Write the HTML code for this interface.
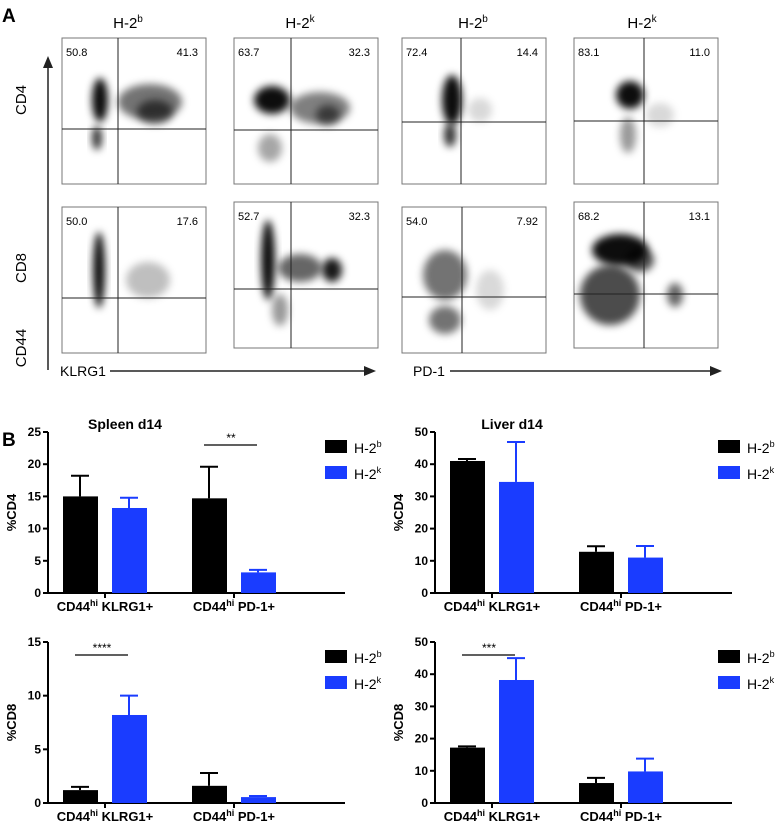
<!DOCTYPE html>
<html><head><meta charset="utf-8"><style>
body{margin:0;background:#fff;}
svg{display:block;font-family:"Liberation Sans",Arial,sans-serif;}
</style></head><body>
<svg id="fig" width="777" height="824" viewBox="0 0 777 824">
<defs>
<filter id="bl" x="-50%" y="-50%" width="200%" height="200%"><feGaussianBlur stdDeviation="4"/></filter>
</defs>
<text x="2" y="22" font-size="19" font-weight="bold">A</text>
<text x="2" y="446" font-size="19" font-weight="bold">B</text>
<g id="flow"></g>
<g id="charts"></g>
</svg>
<script>
const NS='http://www.w3.org/2000/svg';
function mk(p,t,a,txt){const e=document.createElementNS(NS,t);for(const k in a)e.setAttribute(k,a[k]);if(txt!==undefined)e.textContent=txt;p.appendChild(e);return e;}
const flow=document.getElementById('flow');
const headers=[[128,'b'],[300,'k'],[473,'b'],[642,'k']];
headers.forEach(h=>{const t=mk(flow,'text',{x:h[0],y:28,'font-size':15,'text-anchor':'middle'});


t.textContent='H-2';mk(t,'tspan',{dy:-6,'font-size':10},h[1]);});
const boxes=[
[62,38,144,146,118,129,'50.8','41.3',[[100,100,8,22,0.95],[97,138,5,12,.8],[150,102,32,18,.55],[155,112,18,12,.6]]],
[234,38,144,146,291,130,'63.7','32.3',[[272,100,18,14,.95],[270,148,12,14,.35],[320,108,30,16,.5],[328,115,12,10,.55]]],
[402,38,144,146,461,122,'72.4','14.4',[[452,100,10,25,.95],[450,135,6,12,.8],[480,110,12,12,.15]]],
[574,38,144,146,644,121,'83.1','11.0',[[630,95,14,14,.95],[628,135,8,18,.4],[660,115,14,12,.15]]],
[62,207,144,146,118,298,'50.0','17.6',[[99,270,6,38,.95],[148,280,22,18,.25]]],
[234,202,144,146,291,289,'52.7','32.3',[[268,260,7,40,.95],[300,268,22,14,.6],[332,270,10,12,.9],[280,310,8,16,.4]]],
[402,207,144,146,462,297,'54.0','7.92',[[445,275,22,25,.55],[445,320,16,14,.55],[490,290,14,20,.15]]],
[574,202,144,146,644,294,'68.2','13.1',[[620,250,28,16,.95],[610,295,30,30,.7],[675,295,8,12,.6],[640,260,14,12,.7]]]];
boxes.forEach(b=>{
 const g=mk(flow,'g',{});
 
 
 mk(g,'rect',{x:b[0],y:b[1],width:b[2],height:b[3],fill:'#fff',stroke:'#777','stroke-width':1});
 b[8].forEach(e=>mk(g,'ellipse',{cx:e[0],cy:e[1],rx:e[2],ry:e[3],fill:'#000','fill-opacity':e[4],filter:'url(#bl)'}));
 mk(g,'line',{x1:b[4],x2:b[4],y1:b[1],y2:b[1]+b[3],stroke:'#222'});
 mk(g,'line',{x1:b[0],x2:b[0]+b[2],y1:b[5],y2:b[5],stroke:'#222'});
 mk(g,'text',{x:b[0]+4,y:b[1]+18,'font-size':11},b[6]);
 mk(g,'text',{x:b[0]+b[2]-8,y:b[1]+18,'font-size':11,'text-anchor':'end'},b[7]);
});
mk(flow,'line',{x1:48,y1:370,x2:48,y2:66,stroke:'#222','stroke-width':1.5});
mk(flow,'polygon',{points:'43,68 53,68 48,56',fill:'#222'});
[[100,'CD4'],[268,'CD8'],[348,'CD44']].forEach(l=>{const t=mk(flow,'text',{x:26,y:l[0],'font-size':15,'text-anchor':'middle',transform:`rotate(-90 26 ${l[0]})`},l[1]);
});
mk(flow,'text',{x:60,y:376,'font-size':14},'KLRG1');
mk(flow,'line',{x1:110,y1:371,x2:366,y2:371,stroke:'#222','stroke-width':1.5});
mk(flow,'polygon',{points:'364,366 364,376 376,371',fill:'#222'});
mk(flow,'text',{x:413,y:376,'font-size':14},'PD-1');
mk(flow,'line',{x1:450,y1:371,x2:712,y2:371,stroke:'#222','stroke-width':1.5});
mk(flow,'polygon',{points:'710,366 710,376 722,371',fill:'#222'});

// ---- bar chart data ----
const categories=['KLRG1+','PD-1+'];
const spleenCD4_b=[15.0,14.7], spleenCD4_bErr=[3.2,4.9];
const spleenCD4_k=[13.2,3.2], spleenCD4_kErr=[1.6,0.4];
const liverCD4_b=[41.0,12.8], liverCD4_bErr=[0.6,1.7];
const liverCD4_k=[34.5,11.0], liverCD4_kErr=[12.4,3.6];
const spleenCD8_b=[1.2,1.6], spleenCD8_bErr=[0.3,1.2];
const spleenCD8_k=[8.2,0.55], spleenCD8_kErr=[1.8,0.1];
const liverCD8_b=[17.2,6.2], liverCD8_bErr=[0.4,1.6];
const liverCD8_k=[38.2,9.8], liverCD8_kErr=[6.8,4.0];
const ticksCD4spleen=[0,5,10,15,20,25], ticksLiver=[0,10,20,30,40,50], ticksCD8spleen=[0,5,10,15];

const charts=document.getElementById('charts');
function chart(ox,top,bot,max,ticks,ylab,b,be,k,ke,sig,title,legX){
 const g=mk(charts,'g',{});
 
 
 const y=v=>bot-(v/max)*(bot-top);
 const slotX=[ox+15,ox+144];
 if(title)mk(g,'text',{x:ox+77,y:top-3,'font-size':14,'font-weight':'bold','text-anchor':'middle'},title);
 mk(g,'line',{x1:ox,x2:ox,y1:top,y2:bot+1,stroke:'#000','stroke-width':2});
 mk(g,'line',{x1:ox,x2:ox+297,y1:bot,y2:bot,stroke:'#000','stroke-width':2});
 ticks.forEach(t=>{mk(g,'line',{x1:ox-5,x2:ox,y1:y(t),y2:y(t),stroke:'#000','stroke-width':2});
  const tl=mk(g,'text',{x:ox-7,y:y(t)+4,'font-size':12,'font-weight':'bold','text-anchor':'end'},String(t));
  });
 const yl=mk(g,'text',{x:ox-32,y:(top+bot)/2,'font-size':13,'font-weight':'bold','text-anchor':'middle',transform:`rotate(-90 ${ox-32} ${(top+bot)/2})`},ylab);
 
 categories.forEach((c,i)=>{
  const sx=slotX[i];
  [[b,be,'#000',0],[k,ke,'#1a3cff',49]].forEach(s=>{
   const x0=sx+s[3],v=s[0][i],e=s[1][i];
   mk(g,'line',{x1:x0+17,x2:x0+17,y1:y(v),y2:y(v+e),stroke:s[2],'stroke-width':2});
   mk(g,'line',{x1:x0+8,x2:x0+26,y1:y(v+e),y2:y(v+e),stroke:s[2],'stroke-width':2});
   const r=mk(g,'rect',{x:x0,y:y(v),width:35,height:bot-y(v),fill:s[2]});
   
   
  });
  mk(g,'line',{x1:sx+42,x2:sx+42,y1:bot,y2:bot+5,stroke:'#000','stroke-width':2});
  const t=mk(g,'text',{x:sx+42,y:bot+18,'font-size':13,'font-weight':'bold','text-anchor':'middle'});
  
  t.textContent='CD44';mk(t,'tspan',{dy:-5,'font-size':9},'hi');mk(t,'tspan',{dy:5},' '+c);
 });
 if(sig){const sx=slotX[sig[0]];
  mk(g,'line',{x1:sx+12,x2:sx+65,y1:top+13,y2:top+13,stroke:'#000','stroke-width':1.3});
  mk(g,'text',{x:sx+39,y:top+10,'font-size':12,'text-anchor':'middle'},sig[1]);}
 mk(g,'rect',{x:legX,y:top+8,width:22,height:13,fill:'#000'});
 mk(g,'rect',{x:legX,y:top+34,width:22,height:13,fill:'#1a3cff'});
 [['b',top+21],['k',top+47]].forEach(l=>{const t=mk(g,'text',{x:legX+29,y:l[1],'font-size':14});
  
  t.textContent='H-2';mk(t,'tspan',{dy:-6,'font-size':9},l[0]);});
}
chart(48,432,593,25,ticksCD4spleen,'%CD4',spleenCD4_b,spleenCD4_bErr,spleenCD4_k,spleenCD4_kErr,[1,'**'],'Spleen d14',325);
chart(435,432,593,50,ticksLiver,'%CD4',liverCD4_b,liverCD4_bErr,liverCD4_k,liverCD4_kErr,null,'Liver d14',718);
chart(48,642,803,15,ticksCD8spleen,'%CD8',spleenCD8_b,spleenCD8_bErr,spleenCD8_k,spleenCD8_kErr,[0,'****'],null,325);
chart(435,642,803,50,ticksLiver,'%CD8',liverCD8_b,liverCD8_bErr,liverCD8_k,liverCD8_kErr,[0,'***'],null,718);
</script>
</body></html>
